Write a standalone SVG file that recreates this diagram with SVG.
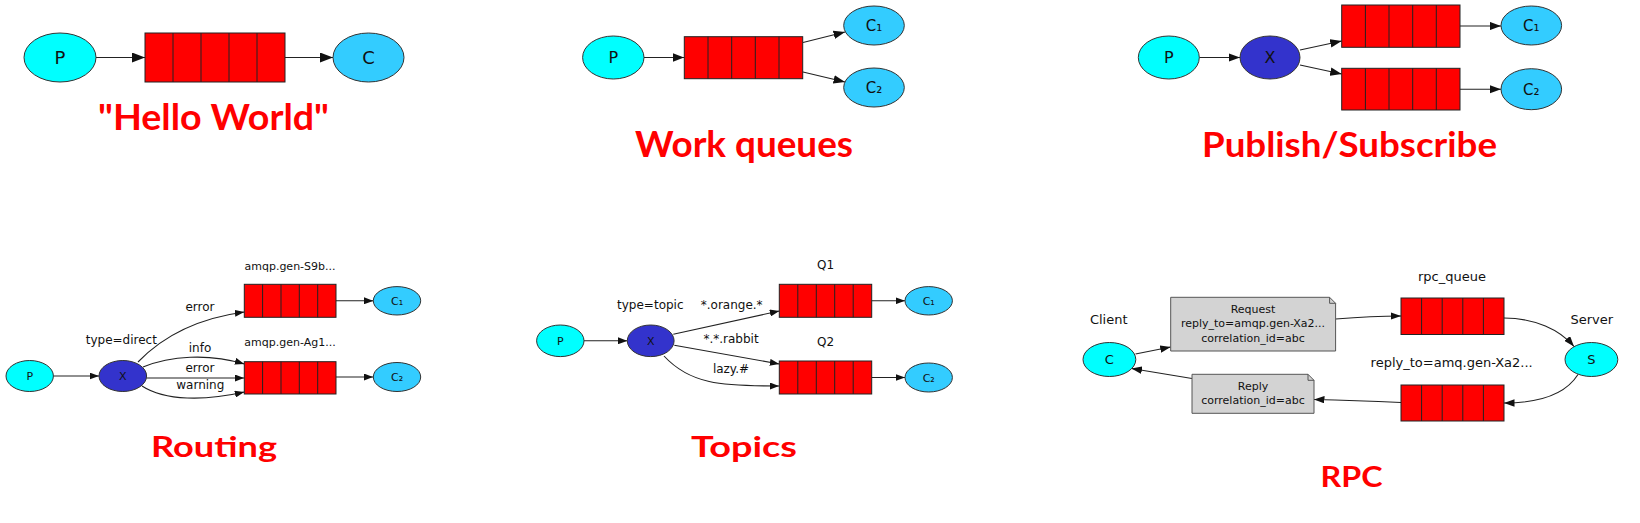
<svg xmlns="http://www.w3.org/2000/svg" width="1640" height="523" viewBox="0 0 1640 523">
<style>
.bg{fill:#fff}
.q rect{fill:#ff0000;stroke:#222;stroke-width:1}
.q path{fill:none;stroke:#222;stroke-width:1}
ellipse{stroke:#333;stroke-width:1}
.p{fill:#00ffff}
.c{fill:#33ccff}
.x{fill:#3333cc}
.edges path,.edges line{fill:none;stroke:#222;stroke-width:1.1}
text{font-family:"DejaVu Sans","Liberation Sans",sans-serif;fill:#111}
.lbl{font-size:12px;text-anchor:middle}
.ql{font-size:11px;text-anchor:middle}
.nl{font-size:11px;text-anchor:middle}
.rl{font-size:13px;text-anchor:middle}
.title{font-family:Lato,"Liberation Sans",sans-serif;font-weight:bold;fill:#ff0000}
.note{fill:#d3d3d3;stroke:#555;stroke-width:1}
</style>
<defs>
<marker id="mL" viewBox="0 0 10 10" refX="10" refY="5" markerWidth="13" markerHeight="10" markerUnits="userSpaceOnUse" orient="auto" preserveAspectRatio="none"><path d="M0,0 L10,5 L0,10 z" fill="#111"/></marker>
<marker id="mM" viewBox="0 0 10 10" refX="10" refY="5" markerWidth="11.5" markerHeight="8.5" markerUnits="userSpaceOnUse" orient="auto" preserveAspectRatio="none"><path d="M0,0 L10,5 L0,10 z" fill="#111"/></marker>
<marker id="mS" viewBox="0 0 10 10" refX="10" refY="5" markerWidth="9.5" markerHeight="7" markerUnits="userSpaceOnUse" orient="auto" preserveAspectRatio="none"><path d="M0,0 L10,5 L0,10 z" fill="#111"/></marker>
<marker id="mR" viewBox="0 0 10 10" refX="10" refY="5" markerWidth="10.5" markerHeight="7.5" markerUnits="userSpaceOnUse" orient="auto" preserveAspectRatio="none"><path d="M0,0 L10,5 L0,10 z" fill="#111"/></marker>
</defs>
<rect class="bg" x="0" y="0" width="1640" height="523"/>

<g class="edges" id="connectors">
<!-- Hello World -->
<line x1="96" y1="57.5" x2="145" y2="57.5" marker-end="url(#mL)"/>
<line x1="285" y1="57.5" x2="333" y2="57.5" marker-end="url(#mL)"/>
<!-- Work queues -->
<line x1="644" y1="57.5" x2="684.3" y2="57.5" marker-end="url(#mM)"/>
<line x1="803" y1="42.5" x2="845" y2="32" marker-end="url(#mM)"/>
<line x1="803" y1="72" x2="845" y2="82" marker-end="url(#mM)"/>
<!-- Publish/Subscribe -->
<line x1="1199.3" y1="57.5" x2="1240" y2="57.5" marker-end="url(#mM)"/>
<line x1="1300" y1="50" x2="1341.7" y2="41" marker-end="url(#mM)"/>
<line x1="1300" y1="65" x2="1341.7" y2="74" marker-end="url(#mM)"/>
<line x1="1460" y1="26" x2="1501" y2="26" marker-end="url(#mM)"/>
<line x1="1460" y1="89.3" x2="1501" y2="89.3" marker-end="url(#mM)"/>
<!-- Routing -->
<line x1="53.4" y1="376" x2="99" y2="376" marker-end="url(#mS)"/>
<path d="M138,362 C165,334 200,318 244.3,312" marker-end="url(#mS)"/>
<path d="M143,367 C170,356 208,353 244.3,364" marker-end="url(#mS)"/>
<line x1="146.6" y1="378" x2="244.3" y2="378" marker-end="url(#mS)"/>
<path d="M142,386 C165,401 205,401 244.3,392" marker-end="url(#mS)"/>
<line x1="336" y1="300.8" x2="373.3" y2="300.8" marker-end="url(#mS)"/>
<line x1="336" y1="377" x2="373.3" y2="377" marker-end="url(#mS)"/>
<!-- Topics -->
<line x1="584" y1="340.8" x2="627.3" y2="340.8" marker-end="url(#mS)"/>
<line x1="673.3" y1="334.3" x2="779.3" y2="311" marker-end="url(#mS)"/>
<line x1="674.3" y1="345.3" x2="779.3" y2="364" marker-end="url(#mS)"/>
<path d="M664,356 C690,384 720,386 779.3,386" marker-end="url(#mS)"/>
<line x1="871.7" y1="300.8" x2="905" y2="300.8" marker-end="url(#mS)"/>
<line x1="871.7" y1="377.5" x2="905" y2="377.5" marker-end="url(#mS)"/>
<!-- RPC -->
<line x1="1135.5" y1="354" x2="1170.7" y2="347" marker-end="url(#mR)"/>
<path d="M1335.6,319 C1360,317 1380,316 1401,316" marker-end="url(#mR)"/>
<path d="M1504,318 C1535,318 1560,330 1574,346.5" marker-end="url(#mR)"/>
<path d="M1578,374.5 C1565,395 1540,403 1504,403" marker-end="url(#mR)"/>
<path d="M1401,402.5 C1370,401 1340,400 1314,399.5" marker-end="url(#mR)"/>
<line x1="1192" y1="378.5" x2="1131.5" y2="368.5" marker-end="url(#mR)"/>
</g>

<!-- Hello World -->
<g id="hw-P"><ellipse class="p" cx="60" cy="57.5" rx="36" ry="24.5"/><text x="60" y="64" font-size="18" text-anchor="middle">P</text></g>
<g id="hw-Q" class="q"><rect x="145" y="33" width="140" height="49"/><path d="M173,33V82M201,33V82M229,33V82M257,33V82"/></g>
<g id="hw-C"><ellipse class="c" cx="368.5" cy="57.5" rx="35.5" ry="24.5"/><text x="368.5" y="64" font-size="18" text-anchor="middle">C</text></g>
<text class="title" x="98" y="130" font-size="37" textLength="231" lengthAdjust="spacingAndGlyphs">"Hello World"</text>

<!-- Work queues -->
<g id="wq-P"><ellipse class="p" cx="613.3" cy="57.5" rx="30.7" ry="21.5"/><text x="613.3" y="63.3" font-size="16" text-anchor="middle">P</text></g>
<g id="wq-Q" class="q"><rect x="684.3" y="36.7" width="118.4" height="42"/><path d="M708,36.7V78.7M731.7,36.7V78.7M755.3,36.7V78.7M779,36.7V78.7"/></g>
<g id="wq-C1"><ellipse class="c" cx="874" cy="25.5" rx="30.3" ry="19.5"/><text x="874" y="31" font-size="15" text-anchor="middle">C₁</text></g>
<g id="wq-C2"><ellipse class="c" cx="874" cy="87.5" rx="30.3" ry="19.5"/><text x="874" y="93" font-size="15" text-anchor="middle">C₂</text></g>
<text class="title" x="635" y="156.7" font-size="36" textLength="218" lengthAdjust="spacingAndGlyphs">Work queues</text>

<!-- Publish/Subscribe -->
<g id="ps-P"><ellipse class="p" cx="1168.8" cy="57.5" rx="30.5" ry="21.5"/><text x="1168.8" y="63.3" font-size="16" text-anchor="middle">P</text></g>
<g id="ps-X"><ellipse class="x" cx="1270" cy="57.5" rx="30" ry="21.5"/><text x="1270" y="63.3" font-size="16" text-anchor="middle">X</text></g>
<g id="ps-Q1" class="q"><rect x="1341.7" y="5" width="118.3" height="42.3"/><path d="M1365.4,5V47.3M1389,5V47.3M1412.7,5V47.3M1436.3,5V47.3"/></g>
<g id="ps-Q2" class="q"><rect x="1341.7" y="68.3" width="118.3" height="41.7"/><path d="M1365.4,68.3V110M1389,68.3V110M1412.7,68.3V110M1436.3,68.3V110"/></g>
<g id="ps-C1"><ellipse class="c" cx="1531.3" cy="25.5" rx="30.3" ry="19.5"/><text x="1531.3" y="31" font-size="15" text-anchor="middle">C₁</text></g>
<g id="ps-C2"><ellipse class="c" cx="1531.3" cy="89.2" rx="30.3" ry="20.5"/><text x="1531.3" y="94.7" font-size="15" text-anchor="middle">C₂</text></g>
<text class="title" x="1202" y="156.7" font-size="35" textLength="295" lengthAdjust="spacingAndGlyphs">Publish/Subscribe</text>

<!-- Routing -->
<g id="rt-P"><ellipse class="p" cx="29.7" cy="376" rx="23.7" ry="15.5"/><text x="29.7" y="380" font-size="11" text-anchor="middle">P</text></g>
<g id="rt-X"><ellipse class="x" cx="122.8" cy="376" rx="23.8" ry="15.5"/><text x="122.8" y="380" font-size="11" text-anchor="middle">X</text></g>
<g id="rt-Q1" class="q"><rect x="244.3" y="284.3" width="91.7" height="33"/><path d="M262.6,284.3V317.3M281,284.3V317.3M299.3,284.3V317.3M317.7,284.3V317.3"/></g>
<g id="rt-Q2" class="q"><rect x="244.3" y="361.7" width="91.7" height="32.3"/><path d="M262.6,361.7V394M281,361.7V394M299.3,361.7V394M317.7,361.7V394"/></g>
<g id="rt-C1"><ellipse class="c" cx="397" cy="300.8" rx="23.7" ry="14.2"/><text x="397" y="304.8" font-size="11" text-anchor="middle">C₁</text></g>
<g id="rt-C2"><ellipse class="c" cx="397" cy="377" rx="23.7" ry="14.5"/><text x="397" y="381" font-size="11" text-anchor="middle">C₂</text></g>
<g id="rt-labels">
<text class="ql" x="290" y="270">amqp.gen-S9b...</text>
<text class="ql" x="290" y="346">amqp.gen-Ag1...</text>
<text class="lbl" x="121.3" y="344.3">type=direct</text>
<text class="lbl" x="200" y="311">error</text>
<text class="lbl" x="200" y="352.3">info</text>
<text class="lbl" x="200" y="371.7">error</text>
<text class="lbl" x="200.3" y="389.3">warning</text>
</g>
<text class="title" x="151" y="457.3" font-size="29" textLength="126" lengthAdjust="spacingAndGlyphs">Routing</text>

<!-- Topics -->
<g id="tp-P"><ellipse class="p" cx="560.3" cy="340.8" rx="23.7" ry="15.8"/><text x="560.3" y="344.8" font-size="11" text-anchor="middle">P</text></g>
<g id="tp-X"><ellipse class="x" cx="650.7" cy="340.8" rx="23.4" ry="15.8"/><text x="650.7" y="344.8" font-size="11" text-anchor="middle">X</text></g>
<g id="tp-Q1" class="q"><rect x="779.3" y="284.3" width="92.4" height="33"/><path d="M797.8,284.3V317.3M816.3,284.3V317.3M834.7,284.3V317.3M853.2,284.3V317.3"/></g>
<g id="tp-Q2" class="q"><rect x="779.3" y="361" width="92.4" height="33"/><path d="M797.8,361V394M816.3,361V394M834.7,361V394M853.2,361V394"/></g>
<g id="tp-C1"><ellipse class="c" cx="928.7" cy="300.8" rx="23.7" ry="14.2"/><text x="928.7" y="304.8" font-size="11" text-anchor="middle">C₁</text></g>
<g id="tp-C2"><ellipse class="c" cx="928.7" cy="377.5" rx="23.7" ry="14.5"/><text x="928.7" y="381.5" font-size="11" text-anchor="middle">C₂</text></g>
<g id="tp-labels">
<text class="lbl" x="825.5" y="269.3">Q1</text>
<text class="lbl" x="825.5" y="346">Q2</text>
<text class="lbl" x="650.3" y="309.3">type=topic</text>
<text class="lbl" x="731.7" y="309.3">*.orange.*</text>
<text class="lbl" x="731" y="342.7">*.*.rabbit</text>
<text class="lbl" x="731" y="372.7">lazy.#</text>
</g>
<text class="title" x="691" y="457.3" font-size="29" textLength="106" lengthAdjust="spacingAndGlyphs">Topics</text>

<!-- RPC -->
<g id="rpc-C"><ellipse class="p" cx="1109.4" cy="359.5" rx="26.4" ry="17"/><text x="1109.4" y="364.2" font-size="13" text-anchor="middle">C</text></g>
<g id="rpc-S"><ellipse class="p" cx="1591.4" cy="359.5" rx="26.4" ry="17"/><text x="1591.4" y="364.2" font-size="13" text-anchor="middle">S</text></g>
<g id="rpc-Q1" class="q"><rect x="1401" y="298" width="103" height="36.5"/><path d="M1421.6,298V334.5M1442.2,298V334.5M1462.8,298V334.5M1483.4,298V334.5"/></g>
<g id="rpc-Q2" class="q"><rect x="1401" y="385" width="103" height="36"/><path d="M1421.6,385V421M1442.2,385V421M1462.8,385V421M1483.4,385V421"/></g>
<g id="rpc-request">
<path class="note" d="M1170.7,297.3H1329.6L1335.6,303.3V351H1170.7Z"/>
<path d="M1329.6,297.3V303.3H1335.6" fill="none" stroke="#555" stroke-width="1"/>
<text class="nl" x="1253" y="313">Request</text>
<text class="nl" x="1253" y="327">reply_to=amqp.gen-Xa2...</text>
<text class="nl" x="1253" y="342">correlation_id=abc</text>
</g>
<g id="rpc-reply">
<path class="note" d="M1192,374.3H1308L1314,380.3V413.3H1192Z"/>
<path d="M1308,374.3V380.3H1314" fill="none" stroke="#555" stroke-width="1"/>
<text class="nl" x="1253" y="389.8">Reply</text>
<text class="nl" x="1253" y="404">correlation_id=abc</text>
</g>
<g id="rpc-labels">
<text class="rl" x="1108.7" y="324">Client</text>
<text class="rl" x="1591.8" y="324">Server</text>
<text class="rl" x="1452" y="280.7">rpc_queue</text>
<text class="rl" x="1451.7" y="367.3">reply_to=amq.gen-Xa2...</text>
</g>
<text class="title" x="1320.5" y="487.3" font-size="29" textLength="62" lengthAdjust="spacingAndGlyphs">RPC</text>
</svg>
